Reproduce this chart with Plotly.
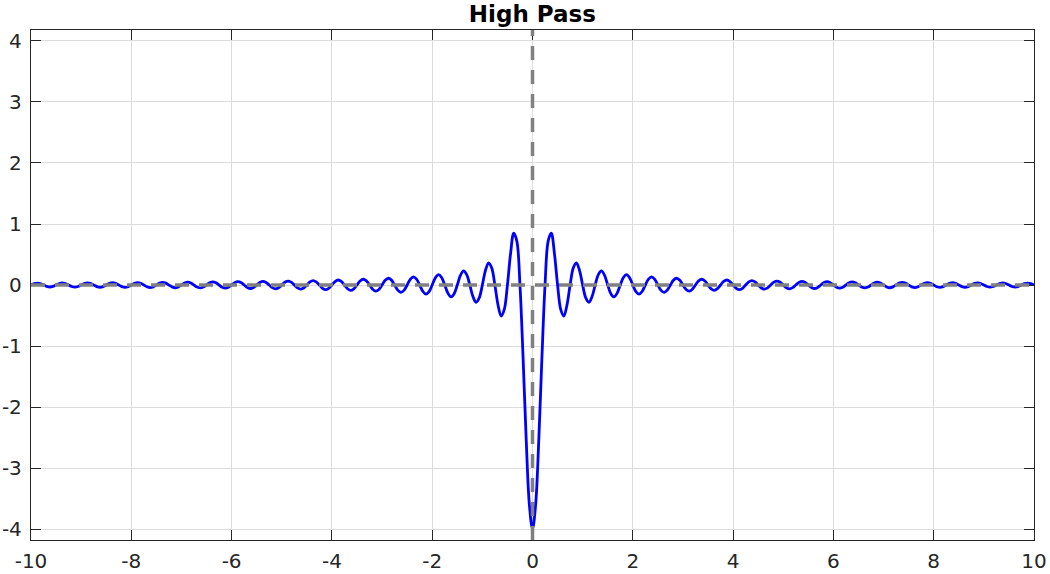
import plotly.graph_objects as go

# sample positions (t = k/16, k = 0..160) for the right half; left half mirrored
t_half = [k / 16 for k in range(161)]
y_half = [
    -4.000, -3.601, -2.546, -1.200, 0.000, 0.720, 0.849, 0.514,
    0.000, -0.400, -0.509, -0.327, 0.000, 0.277, 0.364, 0.240,
    0.000, -0.212, -0.283, -0.190, 0.000, 0.171, 0.231, 0.157,
    0.000, -0.144, -0.196, -0.133, 0.000, 0.124, 0.170, 0.116,
    0.000, -0.109, -0.150, -0.103, 0.000, 0.097, 0.134, 0.092,
    0.000, -0.088, -0.121, -0.084, 0.000, 0.080, 0.111, 0.077,
    0.000, -0.073, -0.102, -0.071, 0.000, 0.068, 0.094, 0.065,
    0.000, -0.063, -0.088, -0.061, 0.000, 0.059, 0.082, 0.057,
    0.000, -0.055, -0.077, -0.054, 0.000, 0.052, 0.073, 0.051,
    0.000, -0.049, -0.069, -0.048, 0.000, 0.047, 0.065, 0.046,
    0.000, -0.044, -0.062, -0.043, 0.000, 0.042, 0.059, 0.041,
    0.000, -0.040, -0.057, -0.040, 0.000, 0.039, 0.054, 0.038,
    0.000, -0.037, -0.052, -0.036, 0.000, 0.036, 0.050, 0.035,
    0.000, -0.034, -0.048, -0.034, 0.000, 0.033, 0.046, 0.032,
    0.000, -0.032, -0.045, -0.031, 0.000, 0.031, 0.043, 0.030,
    0.000, -0.030, -0.042, -0.029, 0.000, 0.029, 0.040, 0.028,
    0.000, -0.028, -0.039, -0.027, 0.000, 0.027, 0.038, 0.027,
    0.000, -0.026, -0.037, -0.026, 0.000, 0.026, 0.036, 0.025,
    0.000, -0.025, -0.035, -0.024, 0.000, 0.024, 0.034, 0.024,
    0.000, -0.024, -0.033, -0.023, 0.000, 0.023, 0.032, 0.023,
    0.000,
]
x_ticks = [-10, -8, -6, -4, -2, 0, 2, 4, 6, 8, 10]
y_ticks = [-4, -3, -2, -1, 0, 1, 2, 3, 4]

x = [-v for v in t_half[::-1]] + t_half[1:]
y = y_half[::-1] + y_half[1:]

fig = go.Figure()
fig.add_trace(go.Scatter(x=x, y=y, mode="lines",
                         line=dict(color="#0000ff", width=2.8, shape="spline", smoothing=1.0),
                         hoverinfo="skip", showlegend=False))

fig.add_vline(x=0, line=dict(color="#808080", width=3.5, dash="14px,10px"), layer="above")
fig.add_hline(y=0, line=dict(color="#808080", width=3.5, dash="14px,10px"), layer="above")

axis_common = dict(
    showline=True, linecolor="#262626", linewidth=1.3, mirror="ticks",
    ticks="inside", ticklen=10, tickwidth=1.3, tickcolor="#262626",
    showgrid=True, gridcolor="#dcdcdc", gridwidth=1, zeroline=False,
    automargin=False,
    tickfont=dict(family="DejaVu Sans", size=20, color="#262626"),
)
fig.update_xaxes(range=[-10, 10], tickvals=x_ticks, ticktext=[str(v) for v in x_ticks],
                 ticklabelstandoff=3, **axis_common)
fig.update_yaxes(range=[-4.18, 4.18], tickvals=y_ticks, ticktext=[str(v) for v in y_ticks],
                 ticklabelstandoff=4, **axis_common)

fig.update_layout(
    width=1050, height=574,
    margin=dict(l=31, r=16, t=30, b=34),
    plot_bgcolor="white", paper_bgcolor="white",
    title=dict(text="<b>High Pass</b>", x=0.507, xanchor="center", y=1 - 14 / 574, yanchor="middle",
               font=dict(family="DejaVu Sans", size=23, color="black")),
)

# remove the default 8px page margin so the figure fills the window exactly
fig.write_html("out.html", config={"displayModeBar": False},
               post_script="document.body.style.margin='0';document.body.style.overflow='hidden';")
